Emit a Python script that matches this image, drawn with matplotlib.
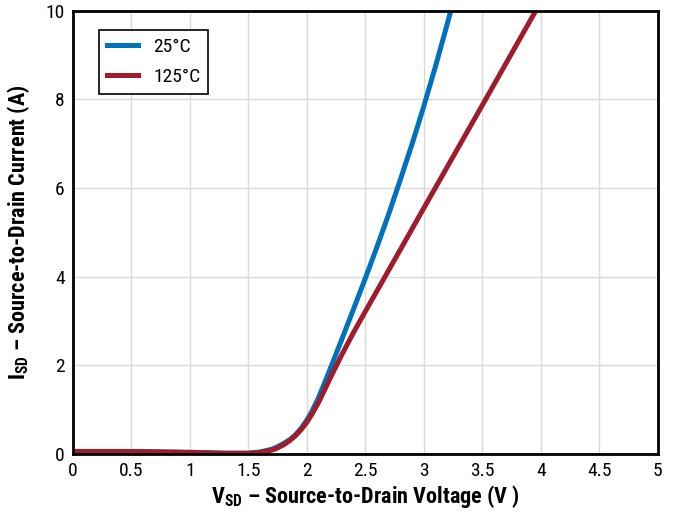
import numpy as np
import matplotlib
matplotlib.use('Agg')
import matplotlib.pyplot as plt
from matplotlib import font_manager

# pick the narrowest installed family we can find
names = set(f.name for f in font_manager.fontManager.ttflist)
font = 'DejaVu Sans'
for cand in ['Liberation Sans Narrow', 'Roboto Condensed', 'Open Sans Condensed',
             'DejaVu Sans Condensed', 'Roboto', 'Liberation Sans']:
    if cand in names:
        font = cand
        break

plt.rcParams['font.family'] = [font, 'DejaVu Sans']
plt.rcParams['mathtext.fontset'] = 'custom'
plt.rcParams['mathtext.rm'] = font
plt.rcParams['mathtext.bf'] = font + ':bold'

# source-drain diode curves
v_25 = [0, 0.5, 1.0, 1.3, 1.5, 1.6, 1.7, 1.75, 1.8, 1.85, 1.9, 1.95, 2.0,
        2.05, 2.1, 2.15, 2.2, 2.3, 2.4, 2.5, 2.6, 2.7, 2.8, 2.9, 3.0, 3.1,
        3.2, 3.3]
i_25 = [0.06, 0.06, 0.04, 0.02, 0.02, 0.05, 0.11, 0.17, 0.24, 0.32, 0.43,
        0.58, 0.77, 1.0, 1.28, 1.6, 1.93, 2.6, 3.28, 3.97, 4.68, 5.42, 6.2,
        7.0, 7.85, 8.75, 9.7, 10.7]
v_125 = [0, 0.5, 1.0, 1.3, 1.5, 1.6, 1.7, 1.75, 1.8, 1.85, 1.9, 1.95, 2.0,
         2.05, 2.1, 2.15, 2.2, 2.3, 2.4, 2.5, 3.0, 3.5, 4.0]
i_125 = [0.06, 0.06, 0.04, 0.02, 0.02, 0.04, 0.09, 0.14, 0.21, 0.3, 0.41,
         0.55, 0.72, 0.93, 1.17, 1.44, 1.72, 2.25, 2.75, 3.22, 5.55, 7.87,
         10.2]

x_ticks = [0, 0.5, 1, 1.5, 2, 2.5, 3, 3.5, 4, 4.5, 5]
x_labels = ['0', '0.5', '1', '1.5', '2', '2.5', '3', '3.5', '4', '4.5', '5']
y_ticks = [0, 2, 4, 6, 8, 10]

blue = '#0071bc'
red = '#9e1c2b'

fig = plt.figure(figsize=(6.76, 5.12), dpi=100)
ax = fig.add_axes([0.108, 0.113, 0.865, 0.866])

ax.plot(v_25, i_25, color=blue, lw=3.6, label='25°C', solid_joinstyle='round')
ax.plot(v_125, i_125, color=red, lw=3.6, label='125°C', solid_joinstyle='round')

ax.set_xlim(0, 5)
ax.set_ylim(0, 10)
ax.set_xticks(x_ticks)
ax.set_xticklabels(x_labels)
ax.set_yticks(y_ticks)
ax.tick_params(length=0, labelsize=14, pad=6)
ax.grid(True, color='#d9d9d9', lw=1)
ax.set_axisbelow(True)
for s in ax.spines.values():
    s.set_linewidth(2)
    s.set_color('black')

ax.set_xlabel(r'$\mathbf{V_{SD}}$ – Source-to-Drain Voltage (V )',
              fontsize=16, fontweight='bold', labelpad=2)
ax.set_ylabel(r'$\mathbf{I_{SD}}$ – Source-to-Drain Current (A)',
              fontsize=16, fontweight='bold', labelpad=10)

leg = ax.legend(loc='upper left', bbox_to_anchor=(0.044, 0.957),
                borderaxespad=0, fancybox=False, fontsize=14,
                handlelength=1.6, labelspacing=0.65, framealpha=1)
leg.get_frame().set_edgecolor('black')
leg.get_frame().set_linewidth(1.2)

fig.savefig('out.png', dpi=100)
